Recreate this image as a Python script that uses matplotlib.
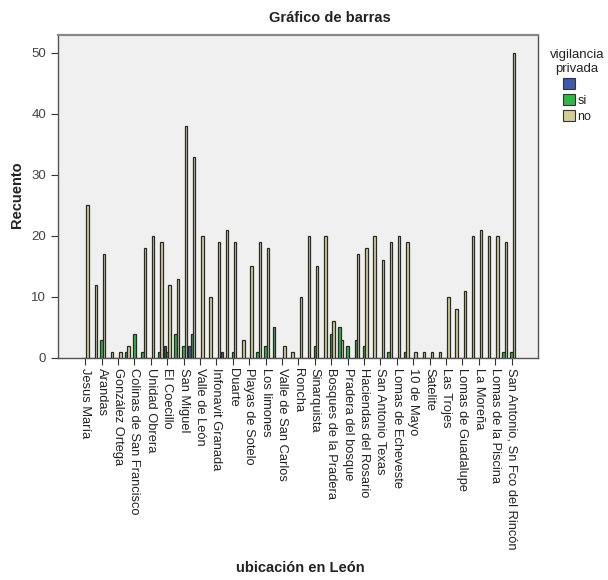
import matplotlib
matplotlib.use("Agg")
import matplotlib.pyplot as plt
import matplotlib.patches as mpatches
import numpy as np

plt.rcParams['font.family'] = ['Liberation Sans', 'DejaVu Sans']

# Categories (SPSS shows only every other label; hidden labels are unknown -> "")
categories = [
    "Jesus María", "", "Arandas", "", "González Ortega", "",
    "Colinas de San Francisco", "", "Unidad Obrera", "", "El Coecillo", "",
    "San Miguel", "", "Valle de León", "", "Infonavit Granada", "",
    "Duarte", "", "Playas de Sotelo", "", "Los limones", "",
    "Valle de San Carlos", "", "Roncha", "", "Sinarquista", "",
    "Bosques de la Pradera", "", "Pradera del bosque", "", "Haciendas del Rosario", "",
    "San Antonio Texas", "", "Lomas de Echeveste", "", "10 de Mayo", "",
    "Satelite", "", "Las Trojes", "", "Lomas de Guadalupe", "",
    "La Moreña", "", "Lomas de la Piscina", "", "San Antonio, Sn Fco del Rincón",
]

series_names = ["", "si", "no"]

vals_blank = [0, 0, 0, 0, 0, 0, 0, 0, 0, 0, 2, 0, 0, 2, 0, 0, 0, 1, 0, 0,
              0, 0, 0, 0, 0, 0, 0, 0, 0, 0, 0, 0, 0, 0, 0, 0, 0, 0, 0, 0,
              0, 0, 0, 0, 0, 0, 0, 0, 0, 0, 0, 0, 0]
vals_si = [0, 0, 3, 0, 0, 1, 4, 1, 0, 1, 1, 4, 2, 4, 0, 0, 0, 0, 1, 0,
           0, 1, 2, 5, 0, 0, 0, 0, 2, 0, 4, 5, 2, 3, 2, 0, 0, 1, 0, 1,
           0, 0, 0, 0, 0, 0, 0, 0, 0, 0, 0, 1, 1]
vals_no = [25, 12, 17, 1, 1, 2, 0, 18, 20, 19, 12, 13, 38, 33, 20, 10, 19, 21, 19, 3,
           15, 19, 18, 0, 2, 1, 10, 20, 15, 20, 6, 3, 0, 17, 18, 20, 16, 19, 20, 19,
           1, 1, 1, 1, 10, 8, 11, 20, 21, 20, 20, 19, 50]

colors = ["#3E58AC", "#2EB848", "#D3CE97"]

fig = plt.figure(figsize=(6.08, 5.80), dpi=100)
ax = fig.add_axes([58/608, 1-358/580, (538-58)/608, (358-35)/580])
ax.set_facecolor("#F0F0F0")

x = np.arange(len(categories))
w = 0.29
for k, (vals, c) in enumerate(zip([vals_blank, vals_si, vals_no], colors)):
    ax.bar(x + (k - 1) * w, vals, width=w, color=c, edgecolor="#2a2a2a",
           linewidth=0.9, label=series_names[k] if series_names[k] else " ", zorder=3)

ax.set_xlim(-3.32, len(categories) - 1 + 3.23)
ax.set_ylim(0, 52.9)
ax.set_yticks([0, 10, 20, 30, 40, 50])
ax.tick_params(axis='y', labelsize=9.5, labelcolor="#444444", length=5, color="#333333")

lab_idx = [i for i, c in enumerate(categories) if c]
ax.set_xticks(lab_idx)
ax.set_xticklabels([categories[i] for i in lab_idx], rotation=-90, fontsize=9.3,
                   ha='center', va='top', color="#222222")
ax.tick_params(axis='x', length=5, color="#333333", pad=2)

for s in ax.spines.values():
    s.set_color("#555555")
    s.set_linewidth(1.0)
ax.spines['top'].set_color("#888888")
ax.spines['top'].set_linewidth(1.6)

fig.text(330/608, 1-18/580, "Gráfico de barras", ha='center', va='center',
         fontsize=10.5, fontweight='bold', color="#222222")
fig.text(17/608, 1-195/580, "Recuento", ha='center', va='center', rotation=90,
         fontsize=10.5, fontweight='bold', color="#222222")
fig.text(300/608, 1-568/580, "ubicación en León", ha='center', va='center',
         fontsize=10.5, fontweight='bold', color="#222222")

handles = [mpatches.Patch(facecolor=c, edgecolor="#333333", linewidth=0.8) for c in colors]
leg = fig.legend(handles, series_names, title="vigilancia\nprivada",
                 loc='upper left', bbox_to_anchor=(541/608, 1-40/580),
                 frameon=False, fontsize=9, title_fontsize=9.5,
                 handlelength=1.0, handleheight=1.0, handletextpad=0.2,
                 labelspacing=0.25, borderpad=0.2, alignment='center')
for t in leg.get_texts():
    t.set_color("#222222")
leg.get_title().set_color("#222222")
leg.get_title().set_multialignment('center')

fig.savefig("out.png", dpi=100)
